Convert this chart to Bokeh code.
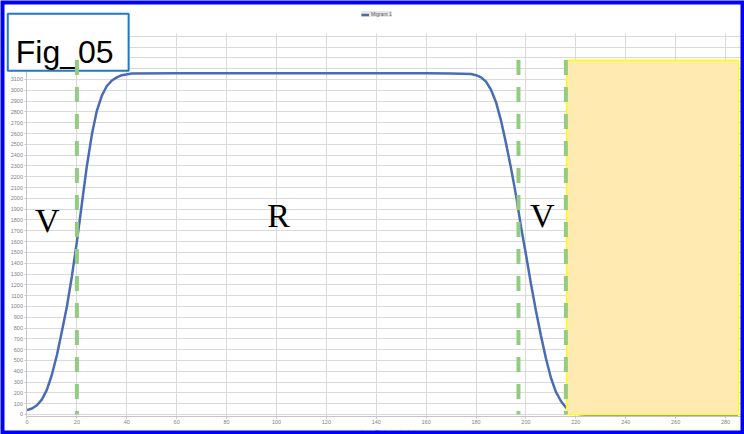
from bokeh.plotting import figure
from bokeh.models import (Range1d, SingleIntervalTicker, Label, BoxAnnotation, Legend, LegendItem)
from bokeh.embed import file_html
from bokeh.resources import INLINE

# ---- data ----
thickness = [0, 2, 4, 6, 8, 10, 12, 14, 16, 18, 20, 22, 24, 26, 28, 30, 32, 34, 36, 38, 42,
             60, 80, 100, 120, 140, 160, 170, 178, 180, 182, 184, 186, 188, 190, 192, 194,
             196, 198, 200, 202, 204, 206, 208, 210, 212, 214, 216, 218, 220, 222, 224,
             240, 260, 285]
migrant = [40, 55, 85, 140, 230, 370, 550, 770, 1000, 1280, 1600, 1950, 2300, 2590, 2810, 2950,
           3040, 3090, 3120, 3140, 3155,
           3158, 3158, 3158, 3158, 3158, 3158, 3156, 3150, 3140, 3120, 3080, 3005, 2890, 2720,
           2510, 2280, 2030, 1740, 1480, 1210, 960, 730, 520, 340, 210, 125, 65, 28, 10, 3, 0,
           0, 0, 0]

series_name = "Migrant 1"
x_label = "Layer Thickness (µm)"
x_ticks_step = 20
y_ticks_step = 100
plot_top = 3526          # top of the drawn chart area (data units)
axis_base = -18          # level of the x axis line
boundaries = [20, 197, 216]          # dashed green lines
boundary_top = 3280
zone_labels = ["V", "R", "V"]
zone_x = [8.1, 100.8, 206.5]
zone_y = [1793, 1840, 1845]
masked = dict(left=216.3, right=285.2, bottom=0, top=3278)   # yellow box
fig_title = "Fig_05"
fig_title_pos = (-7.7, 3708)
legend_pos = (361, 417)

p = figure(width=744, height=434, output_backend="svg", toolbar_location=None, title=None,
           x_range=Range1d(-10.62, 287.6), y_range=Range1d(-185.1, 3831),
           min_border_left=0, min_border_right=0, min_border_top=0, min_border_bottom=0,
           background_fill_color="white", border_fill_color="white")
p.outline_line_color = None

# axes (drawn at fixed data locations)
p.xaxis.ticker = SingleIntervalTicker(interval=x_ticks_step, num_minor_ticks=0)
p.yaxis.ticker = SingleIntervalTicker(interval=y_ticks_step, num_minor_ticks=0)
p.xaxis.fixed_location = axis_base
p.yaxis.fixed_location = 0
p.xaxis.bounds = (0, 287.6)
p.yaxis.bounds = (axis_base, plot_top)
for ax in (p.xaxis, p.yaxis):
    ax.axis_line_color = "#c4c4c4"
    ax.major_tick_line_color = "#c4c4c4"
    ax.minor_tick_line_color = None
    ax.major_tick_out = 2
    ax.major_tick_in = 0
    ax.major_label_text_font_size = "5.5px"
    ax.major_label_text_color = "#7f7f7f"
    ax.major_label_text_font = "Liberation Sans"
    ax.major_label_standoff = 2
p.xaxis.axis_label = x_label
p.xaxis.axis_label_text_font_size = "5px"
p.xaxis.axis_label_text_font_style = "normal"
p.xaxis.axis_label_text_color = "#7f7f7f"
p.xaxis.axis_label_text_font = "Liberation Sans"
p.xaxis.axis_label_standoff = 1

p.xgrid.grid_line_color = "#dadada"
p.ygrid.grid_line_color = "#dadada"
p.xgrid.bounds = (0, 287.6)
p.ygrid.bounds = (0, plot_top)

# white masks so the grid stays inside the chart area
for kw in (dict(right=0), dict(bottom=plot_top), dict(top=axis_base)):
    p.add_layout(BoxAnnotation(fill_color="white", fill_alpha=1.0, line_color=None,
                               level="underlay", **kw))

# curve
r = p.line(thickness, migrant, line_color="#4a6cb3", line_width=2.5)

# yellow box
p.add_layout(BoxAnnotation(left=masked["left"], right=masked["right"],
                           bottom=masked["bottom"], top=masked["top"],
                           fill_color="#ffebb2", fill_alpha=1.0,
                           line_color="#ffff00", line_width=1.5, line_alpha=1.0))

# zone letters
for t, xx, yy in zip(zone_labels, zone_x, zone_y):
    p.add_layout(Label(x=xx, y=yy, text=t, text_font="Liberation Serif",
                       text_font_size="34px", text_color="black",
                       text_align="center", text_baseline="alphabetic"))

# Fig_05 box
p.add_layout(Label(x=fig_title_pos[0], y=fig_title_pos[1], text=fig_title,
                   text_font="Liberation Sans",
                   text_font_size="32px", text_color="black", anchor="top_left",
                   background_fill_color="white", border_line_color="#1f78c8",
                   border_line_width=2,
                   padding=dict(left=8, right=15, top=20, bottom=1)))

# dashed boundaries (drawn on top)
p.segment(x0=boundaries, y0=[boundary_top] * len(boundaries),
          x1=boundaries, y1=[0] * len(boundaries),
          line_color="#92cc80", line_width=4, line_dash="15 12", level="overlay")

# legend
legend = Legend(items=[LegendItem(label=series_name, renderers=[r])], location=legend_pos,
                label_text_font_size="5px", label_text_color="#595959",
                label_height=5, glyph_height=5, glyph_width=8, label_standoff=2,
                padding=2, margin=0, spacing=0,
                background_fill_color="#e8e8e8", background_fill_alpha=1.0,
                border_line_color=None)
p.add_layout(legend)

# blue page border
p.add_layout(BoxAnnotation(fill_color=None, fill_alpha=0, line_color="#0000ff",
                           line_width=8, line_alpha=1.0, level="overlay"))

open("out.html", "w").write(file_html(p, INLINE))
